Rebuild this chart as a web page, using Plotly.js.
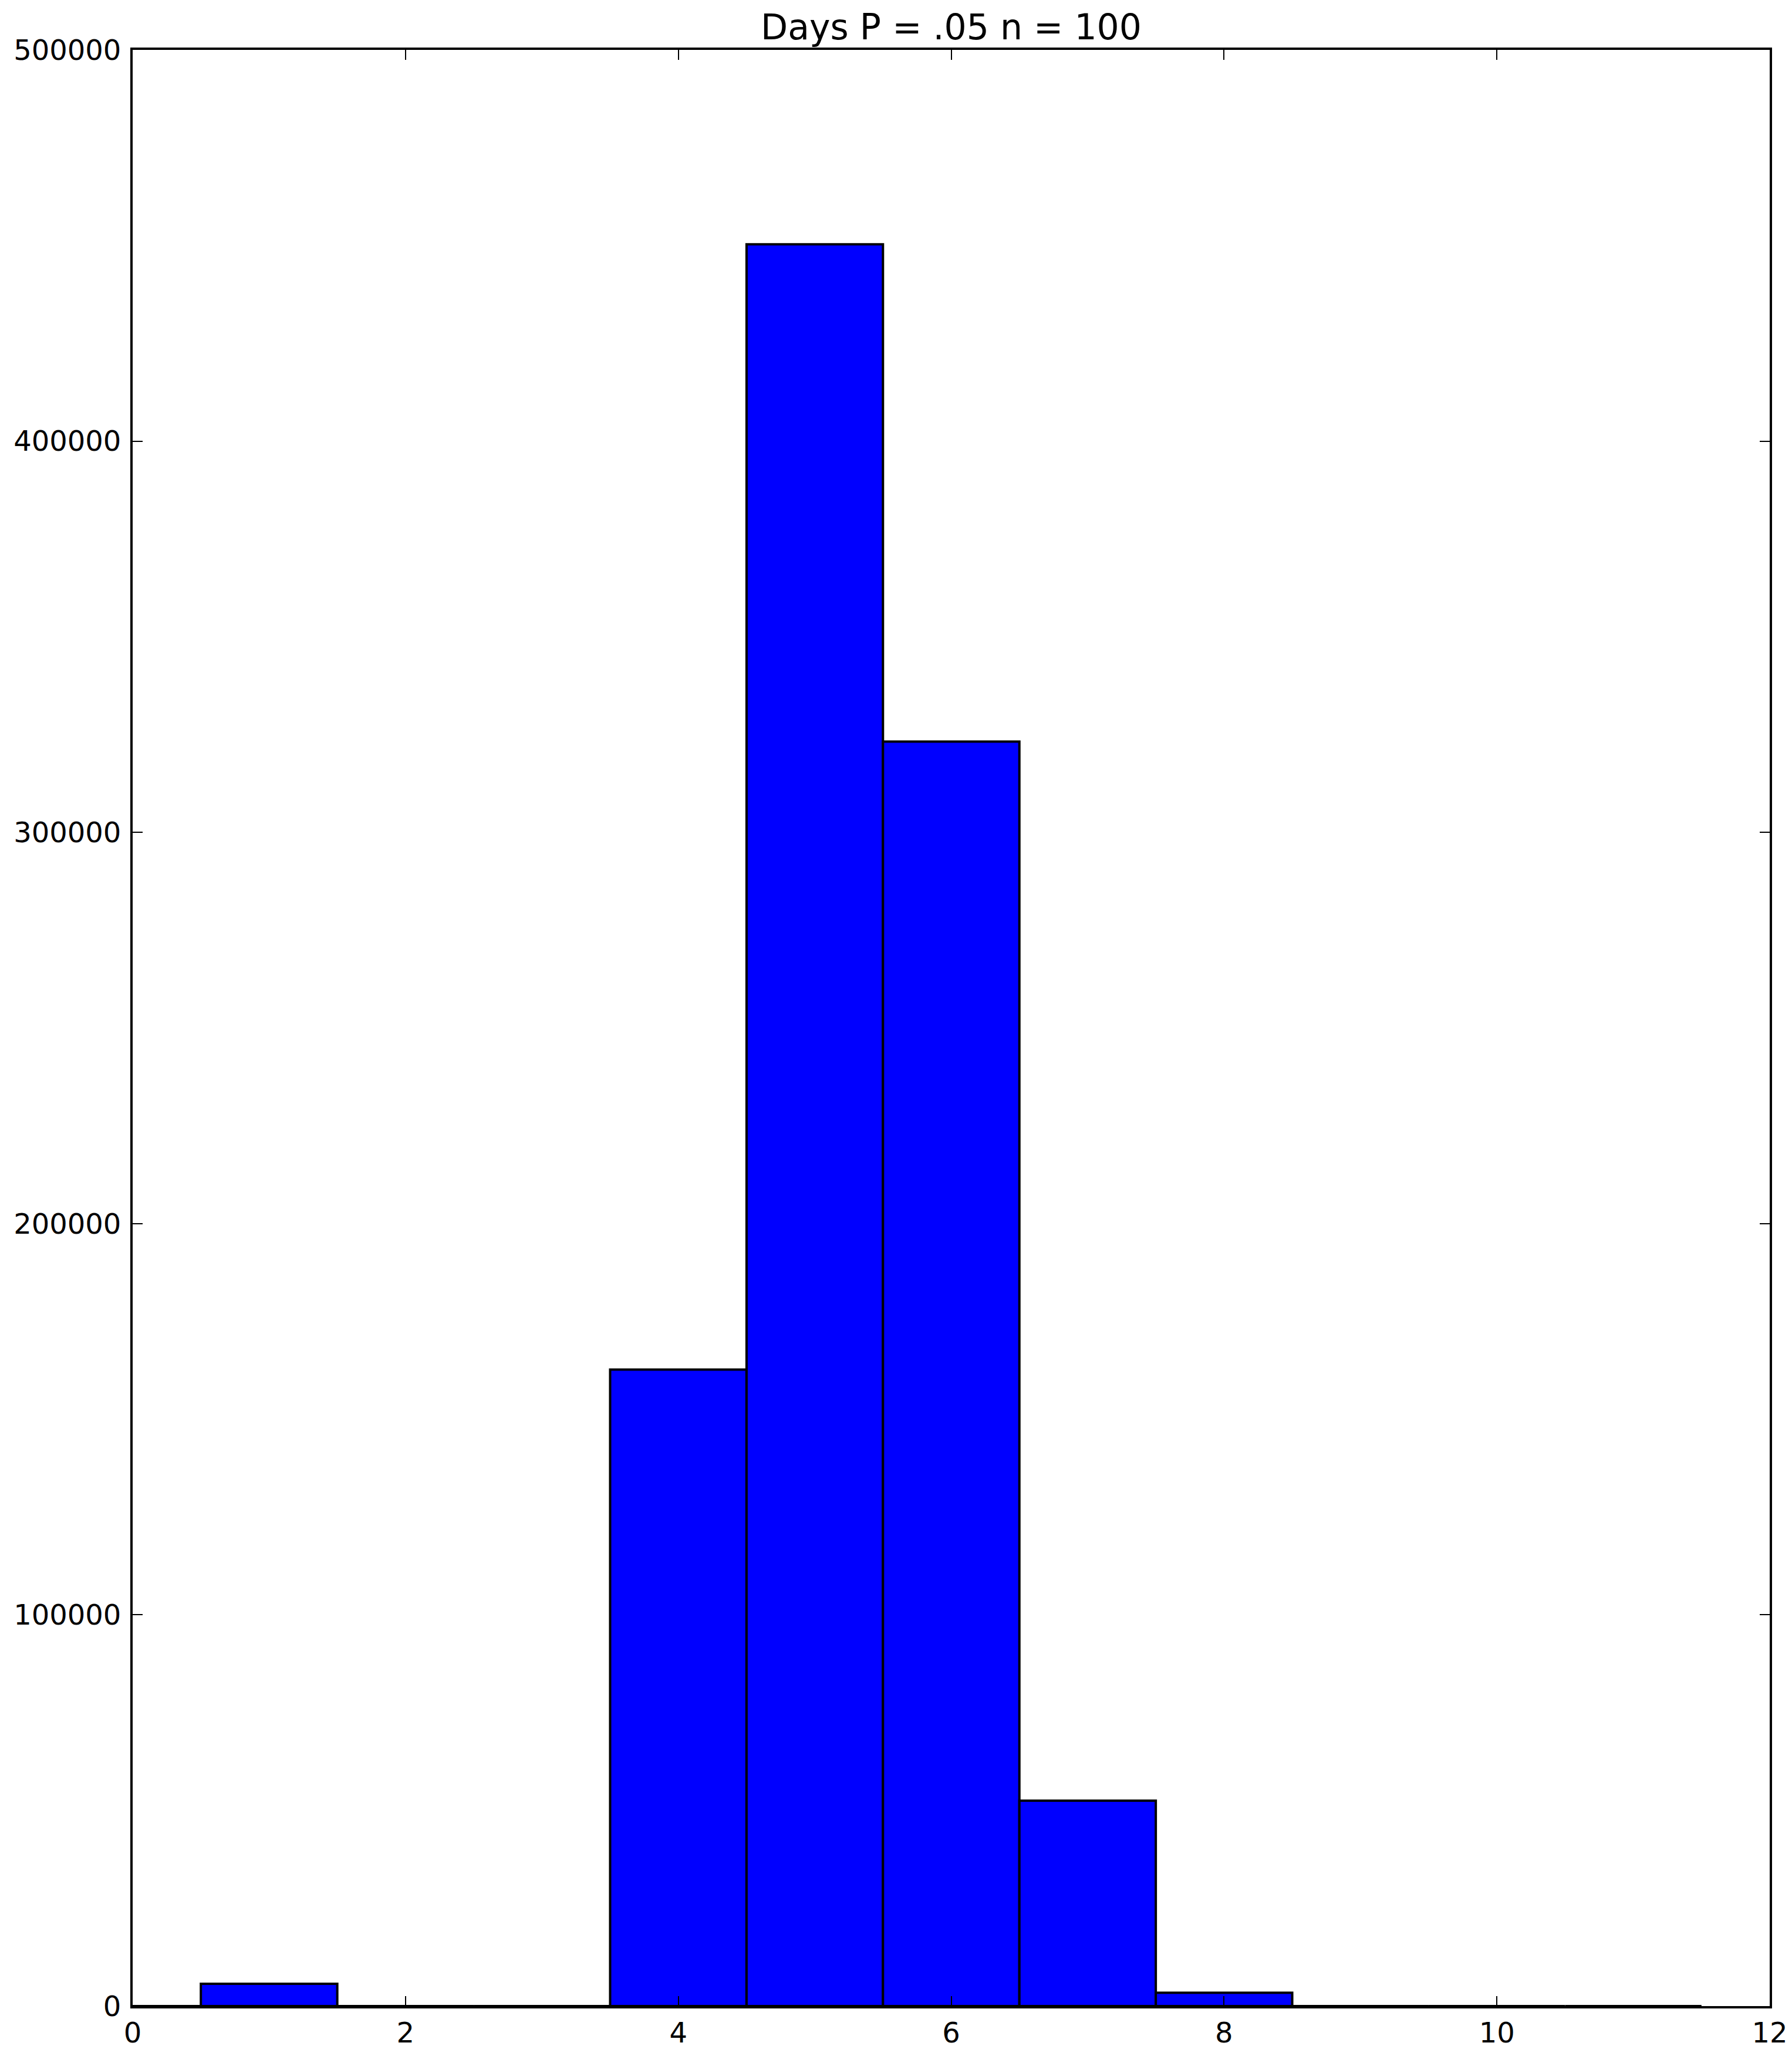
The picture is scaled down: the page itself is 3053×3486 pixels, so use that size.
<!DOCTYPE html>
<html>
<head>
<meta charset="utf-8">
<script src="https://cdn.plot.ly/plotly-3.0.1.min.js"></script>
<style>html,body{margin:0;padding:0;background:#fff;}</style>
</head>
<body>
<div id="chart" style="width:3053px;height:3486px;"></div>
<script>
// Histogram bins (days) and counts
const days = [0, 1, 2, 3, 4, 5, 6, 7, 8, 9, 10, 11];
const counts = [0, 5700, 0, 0, 162700, 450300, 323200, 52500, 3400, 0, 0, 0];
const xTicks = [0, 2, 4, 6, 8, 10, 12];
const yTicks = [0, 100000, 200000, 300000, 400000, 500000];
const titleText = 'Days P = .05 n = 100';

const font = 'DejaVu Sans, sans-serif';

const trace = {
  type: 'bar',
  x: days,
  y: counts,
  width: 1,
  marker: { color: '#0000ff', line: { color: '#000000', width: 4 } },
  hoverinfo: 'x+y'
};

const axisCommon = {
  showline: true,
  linecolor: '#000',
  linewidth: 4,
  mirror: 'allticks',
  ticks: 'inside',
  ticklen: 17,
  tickwidth: 2,
  tickcolor: '#000',
  showgrid: false,
  zeroline: false,
  tickfont: { family: font, size: 48, color: '#000' }
};

const layout = {
  width: 3053,
  height: 3486,
  margin: { l: 226, r: 38, t: 85, b: 68, pad: 0 },
  paper_bgcolor: '#fff',
  plot_bgcolor: '#fff',
  showlegend: false,
  bargap: 0,
  title: {
    text: titleText,
    font: { family: font, size: 60, color: '#000' },
    x: 0.5, xref: 'paper',
    y: 1 - 46 / 3486, yref: 'container', yanchor: 'middle'
  },
  xaxis: Object.assign({}, axisCommon, {
    range: [0, 12],
    tickvals: xTicks,
    ticktext: xTicks.map(String),
    ticklabelstandoff: 0
  }),
  yaxis: Object.assign({}, axisCommon, {
    range: [0, 500000],
    tickvals: yTicks,
    ticktext: yTicks.map(String),
    ticklabelstandoff: 6
  })
};

Plotly.newPlot('chart', [trace], layout, { displayModeBar: false, staticPlot: true });
</script>
</body>
</html>
